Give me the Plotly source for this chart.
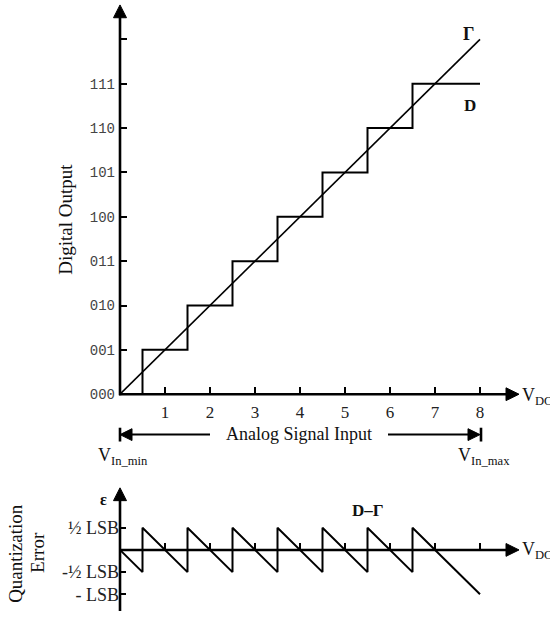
import plotly.graph_objects as go

# ---- data ----
x_ticks = [1, 2, 3, 4, 5, 6, 7, 8]
code_vals = [0, 1, 2, 3, 4, 5, 6, 7, 8]
code_labels = ["000", "001", "010", "011", "100", "101", "110", "111", ""]

gamma_x = [0, 8]
gamma_y = [0, 8]

d_x = [0, 0.5, 1.5, 2.5, 3.5, 4.5, 5.5, 6.5, 8]
d_y = [0, 1, 2, 3, 4, 5, 6, 7, 7]

err_x = [0, 0.5, 0.5, 1.5, 1.5, 2.5, 2.5, 3.5, 3.5, 4.5, 4.5, 5.5, 5.5, 6.5, 6.5, 8]
err_y = [0, -0.5, 0.5, -0.5, 0.5, -0.5, 0.5, -0.5, 0.5, -0.5, 0.5, -0.5, 0.5, -0.5, 0.5, -1]

err_tick_vals = [0.5, -0.5, -1]
err_tick_labels = ["½ LSB", "-½ LSB", "- LSB"]

W, H = 550, 622
SERIF = "Liberation Serif"
MONO = "Liberation Mono"


def px(x):
    return x / W


def py(y):
    return 1 - y / H


# pixel geometry
X0, XTIP = 120, 519          # x=0 and x-axis arrow tip
UX = 45                      # px per unit (x and codes)
Y0, YTIP = 400, 5            # top chart
E0, ETIP, EBOT = 558, 495, 620
UE = 45                      # px per LSB

XMAX = (XTIP - X0) / UX
YMAX = (Y0 - YTIP) / UX
E_HI = (E0 - ETIP) / UE
E_LO = -(EBOT - E0) / UE

fig = go.Figure()
fig.add_trace(go.Scatter(x=gamma_x, y=gamma_y, mode="lines",
                         line=dict(color="black", width=1.6),
                         xaxis="x", yaxis="y", showlegend=False))
fig.add_trace(go.Scatter(x=d_x, y=d_y, mode="lines", line_shape="hv",
                         line=dict(color="black", width=2),
                         xaxis="x", yaxis="y", showlegend=False))
fig.add_trace(go.Scatter(x=err_x, y=err_y, mode="lines",
                         line=dict(color="black", width=2),
                         xaxis="x2", yaxis="y2", showlegend=False))

axis_common = dict(showgrid=False, zeroline=False, showline=False,
                   tickcolor="black", tickwidth=2, ticklen=7)

fig.update_layout(
    width=W, height=H, autosize=False,
    margin=dict(l=0, r=0, t=0, b=0),
    paper_bgcolor="white", plot_bgcolor="rgba(0,0,0,0)",
    xaxis=dict(domain=[px(X0), px(XTIP)], range=[0, XMAX], anchor="y",
               tickvals=x_ticks, ticktext=[str(v) for v in x_ticks],
               ticks="inside", ticklabelstandoff=6,
               tickfont=dict(family=SERIF, size=17, color="#222"),
               **axis_common),
    yaxis=dict(domain=[py(Y0), py(YTIP)], range=[0, YMAX], anchor="x",
               tickvals=code_vals, ticktext=code_labels,
               ticks="inside", ticklabelstandoff=4,
               tickfont=dict(family=MONO, size=14, color="#444"),
               **axis_common),
    xaxis2=dict(domain=[px(X0), px(XTIP)], range=[0, XMAX], anchor="free",
                position=py(E0), tickvals=x_ticks, showticklabels=False,
                ticks="inside", **axis_common),
    yaxis2=dict(domain=[py(EBOT), py(ETIP)], range=[E_LO, E_HI], anchor="x2",
                tickvals=err_tick_vals, ticktext=err_tick_labels,
                ticks="inside", tickfont=dict(family=SERIF, size=18, color="#222"),
                **{**axis_common, "ticklen": 6}),
)


def hline(x0, x1, y, width=2.6):
    return dict(type="line", xref="paper", yref="paper", x0=px(x0), x1=px(x1),
                y0=py(y), y1=py(y), line=dict(color="black", width=width))


def vline(x, y0, y1, width=2.6):
    return dict(type="line", xref="paper", yref="paper", x0=px(x), x1=px(x),
                y0=py(y0), y1=py(y1), line=dict(color="black", width=width))


def head(tx, ty, direction, length=13, half=6.5):
    if direction == "right":
        pts = [(tx, ty), (tx - length, ty - half), (tx - length, ty + half)]
    elif direction == "left":
        pts = [(tx, ty), (tx + length, ty - half), (tx + length, ty + half)]
    else:  # up
        pts = [(tx, ty), (tx - half, ty + length), (tx + half, ty + length)]
    path = "M " + " L ".join(f"{px(a)},{py(b)}" for a, b in pts) + " Z"
    return dict(type="path", xref="paper", yref="paper", path=path,
                fillcolor="black", line=dict(color="black", width=1))


shapes = [
    hline(X0 - 1, XTIP - 8, Y0), head(XTIP, Y0, "right"),
    vline(X0, Y0 + 1, YTIP + 8), head(X0, YTIP, "up"),
    hline(X0 - 1, XTIP - 8, E0), head(XTIP, E0, "right"),
    vline(X0, EBOT, ETIP + 8), head(X0, ETIP, "up"),
    hline(130, 210, 441, 2), head(120, 441, "left", 12, 6), vline(120, 434, 448, 2.6),
    hline(388, 470, 441, 2), head(480, 441, "right", 12, 6), vline(481, 434, 448, 2.6),
]

ann = []


def label(text, x, y, size=15, xanchor="center", bold=False, angle=0, family=SERIF):
    t = f"<b>{text}</b>" if bold else text
    ann.append(dict(xref="paper", yref="paper", x=px(x), y=py(y), text=t,
                    showarrow=False, xanchor=xanchor, yanchor="middle",
                    textangle=angle, font=dict(family=family, size=size, color="#111")))


label("Digital Output", 66, 223, size=19, angle=-90)
label("Γ", 468, 34, size=18, bold=True)
label("D", 470, 107, size=17, bold=True)
label("V<sub>DC</sub>", 520, 402, size=18, xanchor="left")
label("Analog Signal Input", 299, 440, size=18)
label("V<sub>In_min</sub>", 96, 463, size=18, xanchor="left")
label("V<sub>In_max</sub>", 456, 463, size=18, xanchor="left")
label("ε", 103, 507, size=16, bold=True)
label("D–Γ", 368, 518, size=17, bold=True)
label("V<sub>DC</sub>", 520, 559, size=18, xanchor="left")
label("Quantization", 16, 562, size=19, angle=-90)
label("Error", 38, 561, size=19, angle=-90)

fig.update_layout(annotations=ann, shapes=shapes)

fig.write_html("out.html", config={"displayModeBar": False},
               post_script="document.body.style.margin='0px';")
